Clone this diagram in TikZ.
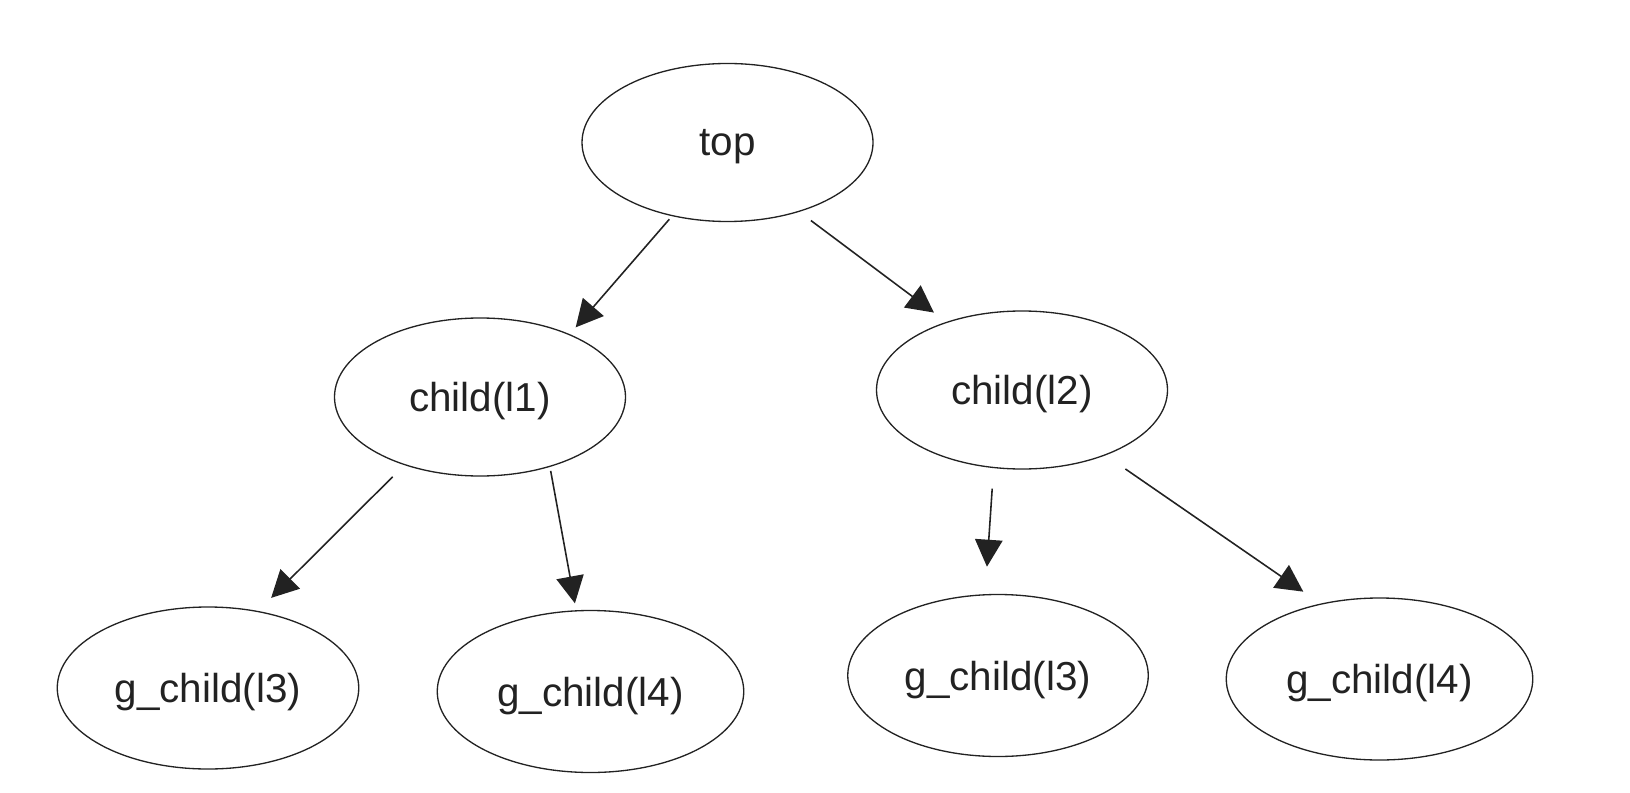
\documentclass[tikz,border=0pt]{standalone}
\usepackage{fontspec}
\setmainfont{Liberation Sans}
\usetikzlibrary{arrows.meta,shapes.geometric}
\definecolor{tInk}{HTML}{222222}
\tikzset{
  tnode/.style={
    draw=tInk, ellipse, line width=0.75pt, inner sep=0pt,
    minimum width=58.2mm, minimum height=31.6mm, text depth=0pt,
    font=\fontsize{23}{27}\selectfont, text=tInk
  },
  gnode/.style={tnode, minimum width=60.5mm, minimum height=32.4mm},
  tedge/.style={-{Triangle[length=5.4mm,width=5.5mm]}, line width=0.9pt, tInk}
}
\begin{document}
\begin{tikzpicture}
  \useasboundingbox (0,0) rectangle (32.6,15.84);
  \node[tnode] (top) at (14.55,12.99) {top};
  \node[tnode] (c1) at (9.60,7.90) {child(l1)};
  \node[tnode] (c2) at (20.44,8.04) {child(l2)};
  \node[gnode, minimum width=60.3mm] (g1) at (4.16,2.08) {g\_child(l3)};
  \node[gnode, minimum width=61.3mm] (g2) at (11.81,2.01) {g\_child(l4)};
  \node[gnode, minimum width=60.1mm] (g3) at (19.96,2.33) {g\_child(l3)};
  \node[gnode, minimum width=61.3mm] (g4) at (27.59,2.26) {g\_child(l4)};
  % edges
  \draw[tedge, shorten <=0.8mm, shorten >=1.8mm] (top.233) -- (c1.35);
  \draw[tedge, shorten <=2.9mm, shorten >=3.1mm] (top.316) -- (c2.138);
  \draw[tedge, shorten <=3.3mm, shorten >=3.7mm] (c1.222) -- (g1.57);
  \draw[tedge, shorten <=0.8mm, shorten >=1.4mm] (c1.315) -- (g2.100);
  \draw[tedge, shorten <=4.1mm, shorten >=5.5mm] (c2.250) -- (g3.99);
  \draw[tedge, shorten <=4.8mm, shorten >=4.2mm] (c2.322) -- (g4.128);
\end{tikzpicture}
\end{document}
